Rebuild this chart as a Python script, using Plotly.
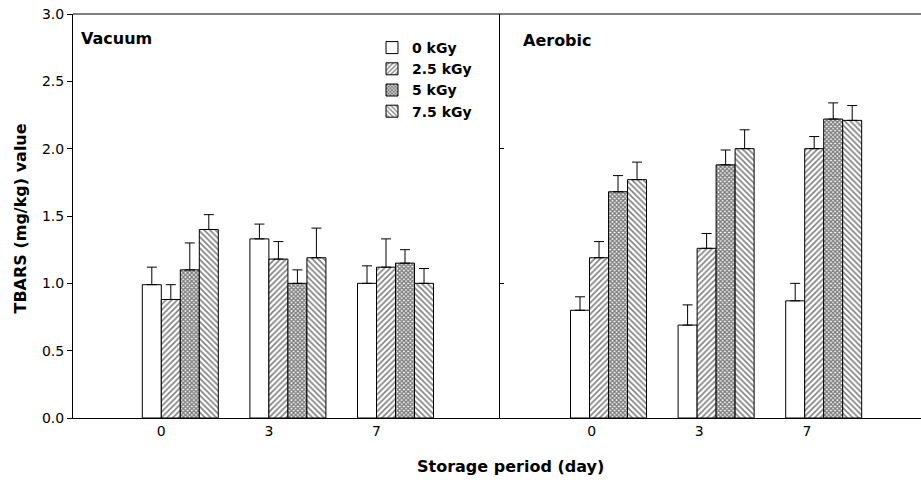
import plotly.graph_objects as go

days = ["0", "3", "7"]
doses = ["0 kGy", "2.5 kGy", "5 kGy", "7.5 kGy"]

# Vacuum packaging: mean TBARS and upper SD
vac_0 = [0.99, 1.33, 1.00]
vac_25 = [0.88, 1.18, 1.12]
vac_5 = [1.10, 1.00, 1.15]
vac_75 = [1.40, 1.19, 1.00]
vac_0_err = [0.13, 0.11, 0.13]
vac_25_err = [0.11, 0.13, 0.21]
vac_5_err = [0.20, 0.10, 0.10]
vac_75_err = [0.11, 0.22, 0.11]

# Aerobic packaging
aer_0 = [0.80, 0.69, 0.87]
aer_25 = [1.19, 1.26, 2.00]
aer_5 = [1.68, 1.88, 2.22]
aer_75 = [1.77, 2.00, 2.21]
aer_0_err = [0.10, 0.15, 0.13]
aer_25_err = [0.12, 0.11, 0.09]
aer_5_err = [0.12, 0.11, 0.12]
aer_75_err = [0.13, 0.14, 0.11]

vac = [vac_0, vac_25, vac_5, vac_75]
vac_err = [vac_0_err, vac_25_err, vac_5_err, vac_75_err]
aer = [aer_0, aer_25, aer_5, aer_75]
aer_err = [aer_0_err, aer_25_err, aer_5_err, aer_75_err]

patterns = [
    dict(shape="", fgcolor="black", bgcolor="white"),
    dict(shape="/", size=4, solidity=0.4, fgcolor="black", bgcolor="white"),
    dict(shape="x", size=3, solidity=0.7, fgcolor="black", bgcolor="white"),
    dict(shape="\\", size=4, solidity=0.4, fgcolor="black", bgcolor="white"),
]

FONT = "DejaVu Sans"
W = 0.1766
idx = list(range(len(days)))

fig = go.Figure()
for panel, (vals, errs, xa, ya) in enumerate([(vac, vac_err, "x", "y"), (aer, aer_err, "x2", "y2")]):
    for i, d in enumerate(doses):
        fig.add_trace(go.Bar(
            x=idx, y=vals[i], width=W, offset=(i - 1) * W,
            name=d, legendgroup=d, showlegend=(panel == 0),
            marker=dict(color="white", line=dict(color="black", width=1), pattern=patterns[i]),
            error_y=dict(type="data", symmetric=False, array=errs[i],
                         arrayminus=[0] * len(days), color="black", thickness=1, width=5),
            xaxis=xa, yaxis=ya,
        ))

L, R, T, B = 73, 0, 14, 62
PH = 480 - T - B
PW = 921 - L - R
split_l = (499.5 - L) / PW
split_r = (500 - L) / PW

axis_common = dict(showgrid=False, zeroline=False, showline=True, linecolor="black", linewidth=1,
                   automargin=False, tickfont=dict(family=FONT, size=14, color="black"))

fig.update_layout(
    width=921, height=480,
    margin=dict(l=L, r=R, t=T, b=B, autoexpand=False),
    paper_bgcolor="white", plot_bgcolor="white",
    barmode="overlay",
    font=dict(family=FONT, color="black"),
    xaxis=dict(domain=[0, split_l], range=[-0.8206, 3.143], tickvals=idx, ticktext=days,
               ticks="", **axis_common),
    xaxis2=dict(domain=[split_r, 1], range=[-0.832, 3.081], tickvals=[v + 0.02 for v in idx],
                ticktext=days, ticks="", anchor="y2", **axis_common),
    yaxis=dict(range=[0, 3], dtick=0.5, tickformat=".1f", ticks="outside", ticklen=5,
               tickcolor="black", **axis_common),
    yaxis2=dict(range=[0, 3], tickvals=[1, 2], ticks="inside", ticklen=4, tickcolor="black",
                showticklabels=False, anchor="x2", **axis_common),
    legend=dict(x=(372 - L) / PW, y=1 - (32 - T) / PH, xanchor="left", yanchor="top",
                bgcolor="rgba(0,0,0,0)", font=dict(family=FONT, size=14, color="black", weight="bold"),
                itemwidth=30, tracegroupgap=0),
    shapes=[dict(type="line", xref="paper", yref="paper", x0=0, x1=1, y0=1, y1=1,
                 line=dict(color="black", width=1))],
    annotations=[
        dict(text="<b>Vacuum</b>", xref="paper", yref="paper", x=(79 - L) / PW,
             y=1 - (38 - T) / PH, xanchor="left", yanchor="middle", showarrow=False,
             font=dict(family=FONT, size=16, color="black")),
        dict(text="<b>Aerobic</b>", xref="paper", yref="paper", x=(521 - L) / PW,
             y=1 - (40 - T) / PH, xanchor="left", yanchor="middle", showarrow=False,
             font=dict(family=FONT, size=16, color="black")),
        dict(text="<b>Storage period (day)</b>", xref="paper", yref="paper", x=(510 - L) / PW,
             y=-(466 - 418) / PH, xanchor="center", yanchor="middle", showarrow=False,
             font=dict(family=FONT, size=16, color="black")),
        dict(text="<b>TBARS (mg/kg) value</b>", xref="paper", yref="paper", x=(20 - L) / PW,
             y=(418 - 218.5) / PH, xanchor="center", yanchor="middle", textangle=-90,
             showarrow=False, font=dict(family=FONT, size=16, color="black")),
    ],
)

fig.write_html("out.html", config={"displayModeBar": False},
               post_script="document.body.style.margin='0px';")
